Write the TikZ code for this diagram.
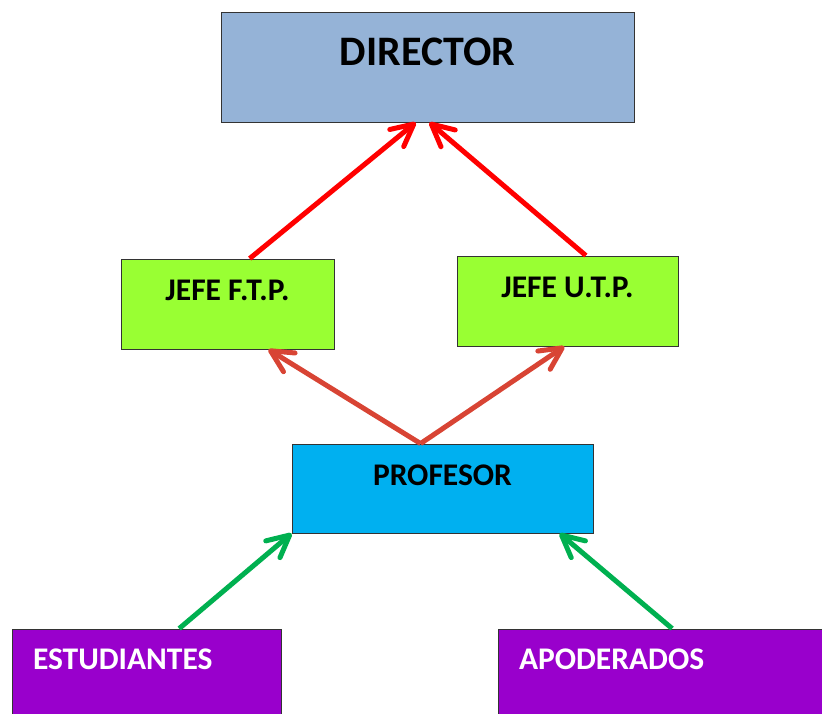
\documentclass[tikz,border=0pt]{standalone}
\usepackage{fontspec}
\setmainfont{Carlito}
\usetikzlibrary{arrows.meta}

\definecolor{dirblue}{HTML}{95B3D7}
\definecolor{jefegreen}{HTML}{99FF33}
\definecolor{profblue}{HTML}{00B0F0}
\definecolor{basepurple}{HTML}{9900CC}
\definecolor{arrowred}{HTML}{FF0000}
\definecolor{arrowbrick}{HTML}{D84434}
\definecolor{arrowgreen}{HTML}{00B050}

\begin{document}
\begin{tikzpicture}[x=1pt,y=-1pt,
    cargo/.style={rectangle,draw=black!80,line width=0.9pt,inner sep=0pt,text height=41pt,text depth=49pt,minimum height=90pt,font=\bfseries\fontsize{31.5}{36}\selectfont},
    base/.style={cargo,fill=basepurple,text=white,align=left,inner xsep=21pt,text height=40pt},
    flecha/.style={line width=5pt,-{Straight Barb[length=22pt,width=22pt,round]}}]
    \useasboundingbox (0,0) rectangle (822,713);

    \node (DIR) at (427.5,67) [cargo,fill=dirblue,minimum width=413pt,minimum height=110pt,text height=53pt,text depth=57pt,font=\bfseries\fontsize{42}{48}\selectfont]{DIRECTOR};
    \node (FTP) at (227.5,304) [cargo,fill=jefegreen,minimum width=213pt]{JEFE F.T.P.};
    \node (UTP) at (567.5,301) [cargo,fill=jefegreen,minimum width=221pt]{JEFE U.T.P.};
    \node (PROF) at (442.5,488.5) [cargo,fill=profblue,minimum width=301pt,text depth=48pt,minimum height=89pt]{PROFESOR};
    \node (EST) at (146.5,673.5) [base,text width=227pt,text depth=49pt,minimum height=89pt]{ESTUDIANTES};
    \node (APO) at (669,673.5) [base,text width=300pt,text depth=49pt,minimum height=89pt]{APODERADOS};

    \draw [flecha,color=arrowred] (FTP.64.5) to (DIR.258.2);
    \draw [flecha,color=arrowred] (UTP.68.7) to (DIR.272.6);

    \draw [flecha,color=arrowbrick] (PROF.116.8) to (FTP.312.7);
    \draw [flecha,color=arrowbrick] (PROF.116.8) to (UTP.266.8);

    \draw [flecha,color=arrowgreen] (EST.54.7) to (PROF.south west);
    \draw [flecha,color=arrowgreen] (APO.86.1) to (PROF.339.6);
  \end{tikzpicture}
\end{document}
